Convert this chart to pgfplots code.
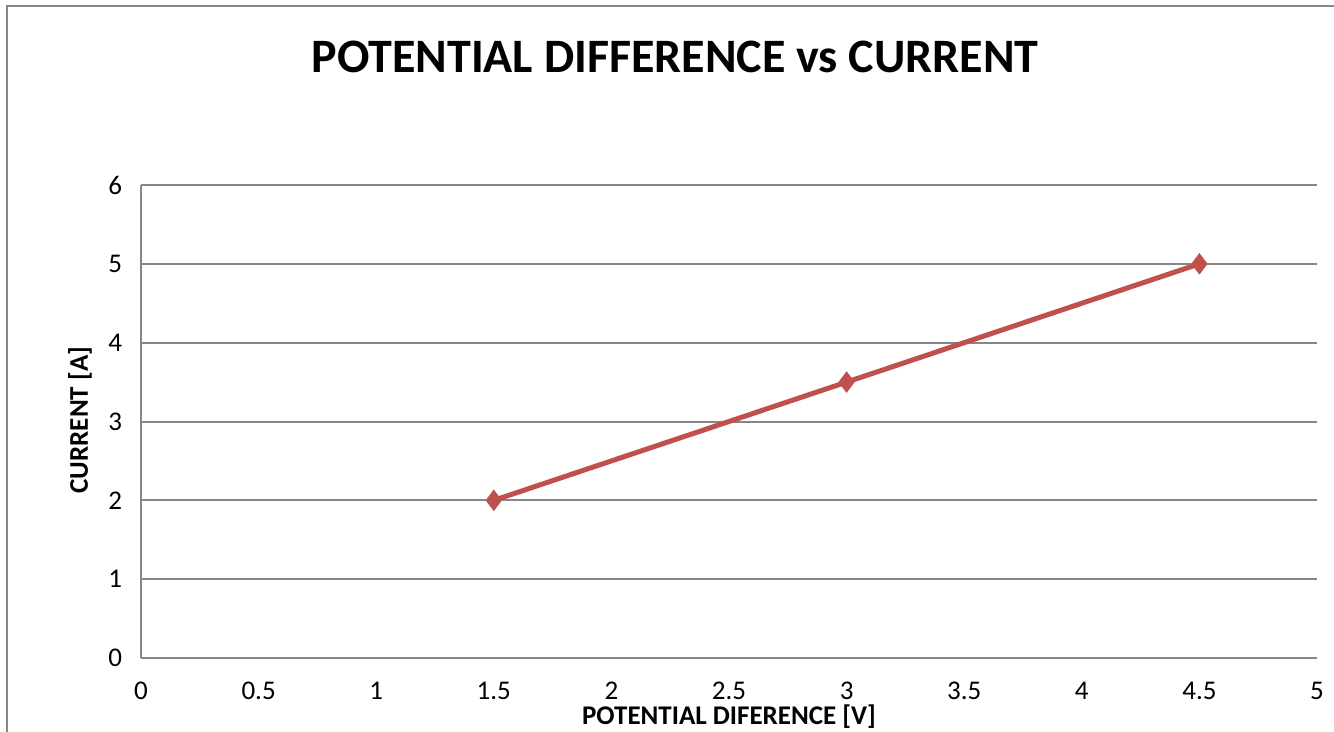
\documentclass[border=0pt]{standalone}
\usepackage{fontspec}
\setmainfont{Carlito}
\usepackage{pgfplots}
\pgfplotsset{compat=1.18}
\definecolor{gridgray}{RGB}{134,134,134}
\definecolor{seriesred}{RGB}{192,80,77}
\begin{document}
\begin{tikzpicture}
% 1 px of the reference = 0.5bp, origin at the axis corner
\path[use as bounding box] (-70.5bp,-37bp) rectangle (596.5bp,329bp);
\draw[gridgray, line width=1bp] (-67bp,-37bp) -- (-67bp,326bp) -- (596.5bp,326bp);
\begin{axis}[
    at={(0,0)}, anchor=origin,
    scale only axis,
    width=588bp, height=236.5bp,
    xmin=0, xmax=5, ymin=0, ymax=6,
    xtick distance=0.5, ytick distance=1,
    axis x line*=bottom, axis y line*=left,
    axis line style={gridgray, line width=1bp, -},
    ymajorgrids=true,
    grid style={gridgray, line width=1bp},
    major tick length=0pt,
    tick label style={font=\fontsize{13.5bp}{16bp}\selectfont},
    /pgf/number format/assume math mode=true,
    yticklabel style={xshift=-6bp},
    xticklabel style={yshift=-8.5bp},
    clip=false,
]
\addplot[seriesred, line width=2.5bp, mark=diamond*, mark size=5bp,
    mark options={solid, fill=seriesred, draw=seriesred, line width=0.5bp}]
    coordinates {(1.5,2) (3,3.5) (4.5,5)};
\end{axis}
\node[font=\fontsize{24bp}{28bp}\selectfont\bfseries] at (267bp,300.5bp) {POTENTIAL DIFFERENCE vs CURRENT};
\node[font=\fontsize{13.5bp}{16bp}\selectfont\bfseries, rotate=90] at (-30.5bp,119bp) {CURRENT [A]};
\node[font=\fontsize{13.5bp}{16bp}\selectfont\bfseries] at (294bp,-29.5bp) {POTENTIAL DIFERENCE [V]};
\end{tikzpicture}
\end{document}
